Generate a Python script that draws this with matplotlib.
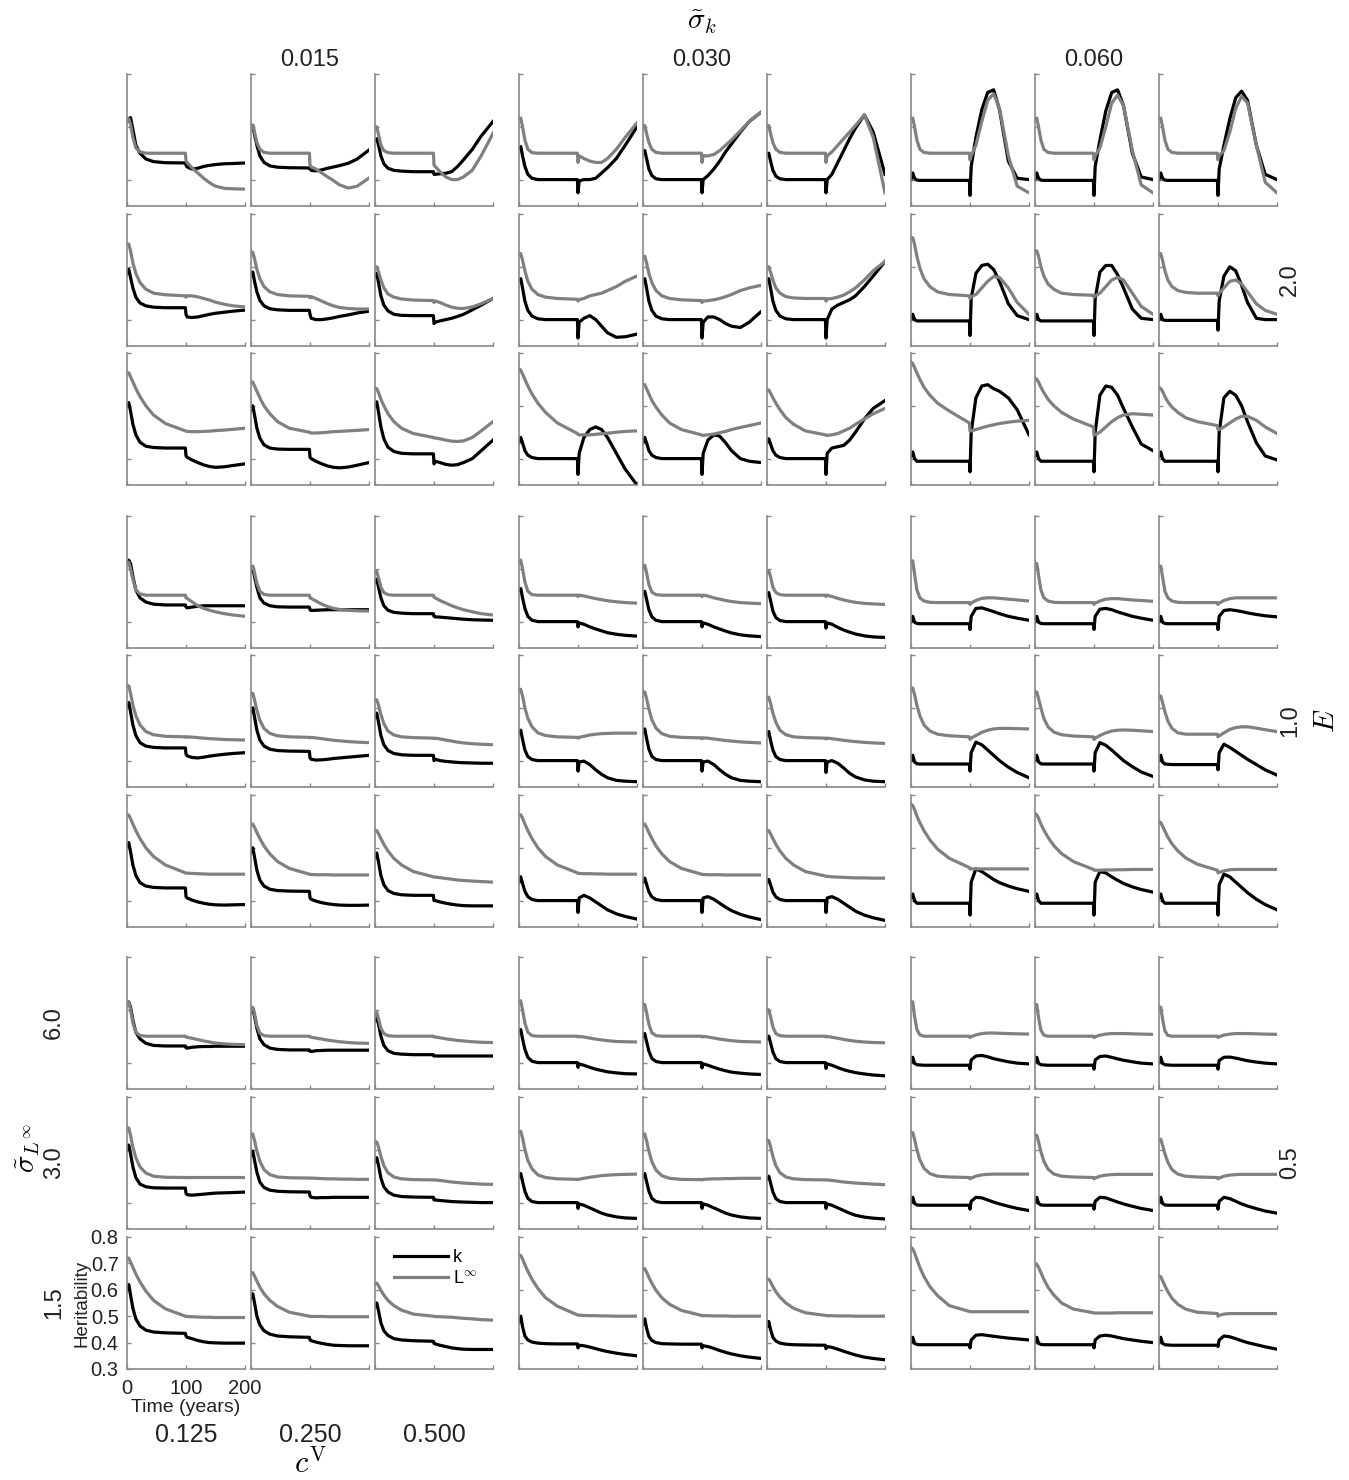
import matplotlib.pyplot as plt

plt.rcParams['font.family'] = ['Liberation Sans', 'DejaVu Sans']
plt.rcParams['mathtext.fontset'] = 'cm'

# time grid (years) shared by every curve
t_years = [0, 3, 6, 10, 15, 22, 32, 45, 65, 99, 100, 102, 110, 120, 130, 140, 150, 165, 180, 200]

sigma_k = ['0.015', '0.030', '0.060']
cv_vals = ['0.125', '0.250', '0.500']
e_vals = ['2.0', '1.0', '0.5']
sigma_linf = ['6.0', '3.0', '1.5']

# heritability of k (black) and L_inf (grey), one list per panel row, 9 panels each
k_row1 = [
    [0.62, 0.63, 0.635, 0.59, 0.53, 0.50, 0.478, 0.468, 0.464, 0.463, 0.455, 0.448, 0.44, 0.443, 0.45, 0.454, 0.457, 0.46, 0.461, 0.463],
    [0.60, 0.605, 0.57, 0.53, 0.49, 0.465, 0.452, 0.447, 0.445, 0.444, 0.44, 0.435, 0.433, 0.437, 0.443, 0.448, 0.453, 0.462, 0.478, 0.512],
    [0.55, 0.555, 0.53, 0.49, 0.46, 0.443, 0.435, 0.432, 0.43, 0.43, 0.42, 0.42, 0.422, 0.424, 0.43, 0.45, 0.475, 0.515, 0.565, 0.62],
    [0.52, 0.525, 0.49, 0.45, 0.42, 0.405, 0.40, 0.40, 0.40, 0.40, 0.35, 0.395, 0.40, 0.40, 0.405, 0.425, 0.445, 0.48, 0.53, 0.60],
    [0.505, 0.51, 0.48, 0.44, 0.415, 0.403, 0.40, 0.40, 0.40, 0.40, 0.35, 0.40, 0.415, 0.44, 0.47, 0.505, 0.535, 0.58, 0.62, 0.655],
    [0.495, 0.50, 0.47, 0.435, 0.413, 0.403, 0.40, 0.40, 0.40, 0.40, 0.35, 0.40, 0.42, 0.465, 0.51, 0.555, 0.595, 0.645, 0.58, 0.42],
    [0.40, 0.425, 0.405, 0.398, 0.397, 0.397, 0.397, 0.397, 0.397, 0.397, 0.34, 0.45, 0.56, 0.665, 0.73, 0.74, 0.665, 0.47, 0.405, 0.40],
    [0.40, 0.425, 0.405, 0.398, 0.397, 0.397, 0.397, 0.397, 0.397, 0.397, 0.34, 0.45, 0.55, 0.66, 0.73, 0.74, 0.68, 0.50, 0.41, 0.40],
    [0.40, 0.425, 0.405, 0.398, 0.397, 0.397, 0.397, 0.397, 0.397, 0.397, 0.34, 0.44, 0.53, 0.63, 0.71, 0.735, 0.70, 0.53, 0.42, 0.40],
]
l_row1 = [
    [0.62, 0.63, 0.61, 0.56, 0.52, 0.505, 0.50, 0.50, 0.50, 0.50, 0.47, 0.465, 0.445, 0.425, 0.405, 0.388, 0.375, 0.367, 0.365, 0.364],
    [0.60, 0.607, 0.58, 0.54, 0.515, 0.503, 0.50, 0.50, 0.50, 0.50, 0.455, 0.448, 0.44, 0.425, 0.41, 0.396, 0.38, 0.368, 0.375, 0.406],
    [0.595, 0.60, 0.57, 0.53, 0.51, 0.502, 0.50, 0.50, 0.50, 0.50, 0.455, 0.45, 0.43, 0.41, 0.40, 0.40, 0.41, 0.436, 0.49, 0.575],
    [0.63, 0.633, 0.60, 0.55, 0.515, 0.502, 0.50, 0.50, 0.50, 0.50, 0.465, 0.49, 0.48, 0.47, 0.465, 0.465, 0.48, 0.515, 0.56, 0.615],
    [0.60, 0.605, 0.575, 0.54, 0.515, 0.503, 0.50, 0.50, 0.50, 0.50, 0.465, 0.49, 0.49, 0.495, 0.51, 0.53, 0.55, 0.585, 0.62, 0.655],
    [0.60, 0.605, 0.575, 0.54, 0.515, 0.503, 0.50, 0.50, 0.50, 0.50, 0.465, 0.49, 0.505, 0.53, 0.555, 0.58, 0.605, 0.645, 0.56, 0.35],
    [0.63, 0.633, 0.60, 0.55, 0.515, 0.503, 0.50, 0.50, 0.50, 0.50, 0.475, 0.49, 0.53, 0.62, 0.70, 0.725, 0.67, 0.49, 0.375, 0.35],
    [0.63, 0.633, 0.60, 0.55, 0.515, 0.503, 0.50, 0.50, 0.50, 0.50, 0.475, 0.49, 0.52, 0.60, 0.69, 0.72, 0.68, 0.51, 0.38, 0.35],
    [0.63, 0.633, 0.60, 0.55, 0.515, 0.503, 0.50, 0.50, 0.50, 0.50, 0.475, 0.49, 0.51, 0.58, 0.67, 0.715, 0.69, 0.53, 0.39, 0.35],
]
k_row2 = [
    [0.575, 0.59, 0.56, 0.52, 0.485, 0.463, 0.452, 0.447, 0.445, 0.445, 0.42, 0.41, 0.408, 0.41, 0.415, 0.42, 0.424, 0.428, 0.432, 0.436],
    [0.57, 0.58, 0.545, 0.505, 0.473, 0.452, 0.441, 0.437, 0.435, 0.435, 0.42, 0.405, 0.40, 0.40, 0.403, 0.407, 0.412, 0.418, 0.425, 0.432],
    [0.565, 0.575, 0.54, 0.49, 0.455, 0.433, 0.42, 0.416, 0.415, 0.415, 0.385, 0.39, 0.395, 0.40, 0.405, 0.412, 0.42, 0.437, 0.455, 0.48],
    [0.55, 0.555, 0.52, 0.47, 0.435, 0.413, 0.403, 0.40, 0.40, 0.40, 0.33, 0.39, 0.405, 0.415, 0.40, 0.375, 0.35, 0.333, 0.335, 0.345],
    [0.55, 0.555, 0.52, 0.47, 0.435, 0.413, 0.403, 0.40, 0.40, 0.40, 0.33, 0.39, 0.41, 0.41, 0.40, 0.385, 0.375, 0.37, 0.39, 0.43],
    [0.55, 0.555, 0.52, 0.47, 0.435, 0.413, 0.403, 0.40, 0.40, 0.40, 0.33, 0.40, 0.44, 0.455, 0.465, 0.475, 0.49, 0.525, 0.565, 0.62],
    [0.40, 0.42, 0.40, 0.395, 0.395, 0.395, 0.395, 0.395, 0.395, 0.395, 0.34, 0.48, 0.575, 0.605, 0.61, 0.59, 0.545, 0.46, 0.415, 0.40],
    [0.40, 0.42, 0.40, 0.395, 0.395, 0.395, 0.395, 0.395, 0.395, 0.395, 0.34, 0.48, 0.58, 0.605, 0.605, 0.57, 0.52, 0.44, 0.405, 0.40],
    [0.40, 0.42, 0.40, 0.397, 0.397, 0.397, 0.397, 0.397, 0.397, 0.397, 0.36, 0.47, 0.565, 0.60, 0.585, 0.53, 0.465, 0.405, 0.40, 0.40],
]
l_row2 = [
    [0.686, 0.686, 0.66, 0.615, 0.575, 0.54, 0.515, 0.50, 0.494, 0.49, 0.485, 0.49, 0.49, 0.486, 0.48, 0.474, 0.466, 0.458, 0.452, 0.448],
    [0.655, 0.655, 0.63, 0.59, 0.555, 0.525, 0.505, 0.495, 0.49, 0.488, 0.483, 0.487, 0.48, 0.47, 0.46, 0.452, 0.446, 0.442, 0.44, 0.44],
    [0.60, 0.60, 0.58, 0.55, 0.52, 0.497, 0.485, 0.478, 0.474, 0.472, 0.465, 0.47, 0.465, 0.455, 0.447, 0.443, 0.442, 0.448, 0.46, 0.48],
    [0.65, 0.65, 0.625, 0.585, 0.545, 0.515, 0.495, 0.485, 0.48, 0.477, 0.47, 0.476, 0.48, 0.49, 0.495, 0.50, 0.51, 0.525, 0.545, 0.565],
    [0.64, 0.64, 0.615, 0.575, 0.54, 0.51, 0.49, 0.48, 0.475, 0.472, 0.465, 0.47, 0.472, 0.475, 0.48, 0.487, 0.495, 0.51, 0.52, 0.53],
    [0.60, 0.60, 0.58, 0.55, 0.52, 0.50, 0.487, 0.482, 0.48, 0.48, 0.47, 0.478, 0.48, 0.485, 0.493, 0.505, 0.52, 0.55, 0.585, 0.62],
    [0.71, 0.71, 0.685, 0.64, 0.595, 0.555, 0.525, 0.505, 0.495, 0.49, 0.48, 0.487, 0.495, 0.52, 0.545, 0.563, 0.56, 0.52, 0.465, 0.42],
    [0.66, 0.66, 0.64, 0.60, 0.565, 0.535, 0.515, 0.50, 0.495, 0.492, 0.485, 0.49, 0.50, 0.525, 0.55, 0.56, 0.55, 0.50, 0.45, 0.42],
    [0.65, 0.65, 0.625, 0.585, 0.55, 0.525, 0.51, 0.503, 0.50, 0.50, 0.49, 0.50, 0.52, 0.545, 0.55, 0.535, 0.505, 0.46, 0.435, 0.42],
]
k_row3 = [
    [0.60, 0.612, 0.58, 0.53, 0.49, 0.462, 0.447, 0.442, 0.44, 0.44, 0.41, 0.405, 0.395, 0.385, 0.376, 0.37, 0.367, 0.369, 0.374, 0.38],
    [0.585, 0.60, 0.565, 0.515, 0.478, 0.452, 0.44, 0.436, 0.435, 0.435, 0.405, 0.40, 0.39, 0.38, 0.372, 0.367, 0.365, 0.368, 0.375, 0.385],
    [0.60, 0.615, 0.575, 0.52, 0.475, 0.443, 0.427, 0.42, 0.418, 0.418, 0.38, 0.39, 0.385, 0.378, 0.375, 0.377, 0.385, 0.40, 0.43, 0.47],
    [0.46, 0.48, 0.46, 0.43, 0.413, 0.404, 0.40, 0.40, 0.40, 0.40, 0.34, 0.42, 0.48, 0.51, 0.52, 0.51, 0.48, 0.42, 0.36, 0.30],
    [0.46, 0.48, 0.46, 0.43, 0.413, 0.404, 0.40, 0.40, 0.40, 0.40, 0.34, 0.42, 0.47, 0.49, 0.485, 0.46, 0.43, 0.40, 0.39, 0.385],
    [0.46, 0.475, 0.455, 0.43, 0.413, 0.404, 0.40, 0.40, 0.40, 0.40, 0.34, 0.42, 0.44, 0.445, 0.45, 0.47, 0.50, 0.55, 0.59, 0.62],
    [0.41, 0.425, 0.40, 0.39, 0.39, 0.39, 0.39, 0.39, 0.39, 0.39, 0.35, 0.50, 0.63, 0.675, 0.68, 0.665, 0.655, 0.63, 0.585, 0.49],
    [0.41, 0.425, 0.40, 0.39, 0.39, 0.39, 0.39, 0.39, 0.39, 0.39, 0.35, 0.50, 0.64, 0.675, 0.67, 0.64, 0.59, 0.52, 0.455, 0.43],
    [0.41, 0.425, 0.40, 0.39, 0.39, 0.39, 0.39, 0.39, 0.39, 0.39, 0.35, 0.50, 0.63, 0.655, 0.64, 0.60, 0.54, 0.46, 0.41, 0.395],
]
l_row3 = [
    [0.725, 0.725, 0.71, 0.69, 0.665, 0.635, 0.60, 0.565, 0.533, 0.505, 0.504, 0.503, 0.502, 0.502, 0.503, 0.504, 0.506, 0.508, 0.511, 0.515],
    [0.69, 0.69, 0.675, 0.655, 0.63, 0.60, 0.57, 0.54, 0.515, 0.50, 0.498, 0.497, 0.497, 0.498, 0.50, 0.502, 0.503, 0.505, 0.507, 0.51],
    [0.665, 0.665, 0.65, 0.625, 0.60, 0.57, 0.54, 0.515, 0.495, 0.48, 0.478, 0.478, 0.475, 0.47, 0.466, 0.465, 0.467, 0.48, 0.505, 0.54],
    [0.74, 0.735, 0.72, 0.70, 0.675, 0.645, 0.61, 0.575, 0.535, 0.495, 0.492, 0.49, 0.49, 0.49, 0.492, 0.494, 0.496, 0.50, 0.503, 0.505],
    [0.68, 0.68, 0.665, 0.645, 0.62, 0.595, 0.565, 0.535, 0.51, 0.49, 0.488, 0.488, 0.49, 0.493, 0.498, 0.503, 0.51, 0.518, 0.525, 0.535],
    [0.66, 0.66, 0.648, 0.63, 0.61, 0.585, 0.555, 0.53, 0.505, 0.49, 0.488, 0.488, 0.49, 0.495, 0.505, 0.515, 0.53, 0.55, 0.57, 0.59],
    [0.766, 0.76, 0.745, 0.725, 0.70, 0.67, 0.64, 0.61, 0.58, 0.535, 0.505, 0.505, 0.51, 0.517, 0.523, 0.528, 0.533, 0.538, 0.542, 0.545],
    [0.705, 0.70, 0.69, 0.67, 0.65, 0.625, 0.60, 0.575, 0.55, 0.52, 0.49, 0.49, 0.50, 0.52, 0.54, 0.555, 0.565, 0.57, 0.568, 0.565],
    [0.67, 0.665, 0.655, 0.635, 0.615, 0.595, 0.575, 0.555, 0.54, 0.525, 0.51, 0.51, 0.52, 0.535, 0.55, 0.56, 0.56, 0.545, 0.52, 0.495],
]
k_row4 = [
    [0.62, 0.633, 0.62, 0.57, 0.52, 0.49, 0.474, 0.466, 0.463, 0.463, 0.455, 0.452, 0.455, 0.458, 0.46, 0.46, 0.46, 0.46, 0.46, 0.46],
    [0.595, 0.605, 0.57, 0.53, 0.49, 0.47, 0.46, 0.456, 0.455, 0.455, 0.445, 0.442, 0.443, 0.444, 0.445, 0.445, 0.445, 0.445, 0.445, 0.445],
    [0.55, 0.56, 0.53, 0.49, 0.46, 0.443, 0.435, 0.432, 0.43, 0.43, 0.42, 0.418, 0.417, 0.415, 0.413, 0.411, 0.409, 0.407, 0.406, 0.405],
    [0.52, 0.525, 0.49, 0.45, 0.42, 0.405, 0.40, 0.40, 0.40, 0.40, 0.38, 0.395, 0.39, 0.38, 0.372, 0.365, 0.358, 0.352, 0.348, 0.345],
    [0.51, 0.515, 0.485, 0.445, 0.418, 0.405, 0.40, 0.40, 0.40, 0.40, 0.38, 0.395, 0.39, 0.38, 0.372, 0.364, 0.357, 0.35, 0.346, 0.343],
    [0.505, 0.51, 0.48, 0.44, 0.415, 0.404, 0.40, 0.40, 0.40, 0.40, 0.375, 0.395, 0.39, 0.378, 0.368, 0.36, 0.353, 0.346, 0.342, 0.34],
    [0.40, 0.42, 0.398, 0.393, 0.392, 0.392, 0.392, 0.392, 0.392, 0.392, 0.37, 0.42, 0.45, 0.452, 0.445, 0.438, 0.43, 0.42, 0.413, 0.405],
    [0.40, 0.42, 0.398, 0.393, 0.392, 0.392, 0.392, 0.392, 0.392, 0.392, 0.37, 0.42, 0.447, 0.45, 0.445, 0.437, 0.43, 0.42, 0.413, 0.405],
    [0.40, 0.42, 0.398, 0.393, 0.392, 0.392, 0.392, 0.392, 0.392, 0.392, 0.37, 0.42, 0.442, 0.445, 0.442, 0.438, 0.433, 0.427, 0.422, 0.418],
]
l_row4 = [
    [0.615, 0.625, 0.60, 0.56, 0.52, 0.505, 0.50, 0.50, 0.50, 0.50, 0.49, 0.488, 0.475, 0.46, 0.45, 0.443, 0.437, 0.43, 0.425, 0.42],
    [0.60, 0.61, 0.585, 0.545, 0.515, 0.503, 0.50, 0.50, 0.50, 0.50, 0.49, 0.488, 0.478, 0.466, 0.457, 0.45, 0.446, 0.443, 0.441, 0.44],
    [0.585, 0.59, 0.565, 0.53, 0.51, 0.502, 0.50, 0.50, 0.50, 0.50, 0.492, 0.49, 0.48, 0.47, 0.46, 0.452, 0.445, 0.437, 0.43, 0.425],
    [0.63, 0.633, 0.60, 0.55, 0.515, 0.502, 0.50, 0.50, 0.50, 0.50, 0.495, 0.50, 0.497, 0.492, 0.487, 0.483, 0.479, 0.475, 0.472, 0.47],
    [0.61, 0.613, 0.585, 0.54, 0.512, 0.502, 0.50, 0.50, 0.50, 0.50, 0.495, 0.50, 0.497, 0.49, 0.485, 0.48, 0.476, 0.472, 0.47, 0.468],
    [0.59, 0.593, 0.57, 0.53, 0.51, 0.502, 0.50, 0.50, 0.50, 0.50, 0.495, 0.50, 0.495, 0.488, 0.482, 0.477, 0.473, 0.469, 0.467, 0.465],
    [0.63, 0.63, 0.58, 0.52, 0.49, 0.478, 0.473, 0.472, 0.472, 0.472, 0.465, 0.47, 0.48, 0.488, 0.49, 0.49, 0.488, 0.485, 0.482, 0.478],
    [0.62, 0.62, 0.575, 0.52, 0.49, 0.478, 0.473, 0.472, 0.472, 0.472, 0.465, 0.47, 0.478, 0.485, 0.487, 0.487, 0.485, 0.482, 0.48, 0.477],
    [0.61, 0.61, 0.57, 0.515, 0.49, 0.478, 0.473, 0.472, 0.472, 0.472, 0.465, 0.47, 0.48, 0.487, 0.49, 0.49, 0.49, 0.49, 0.49, 0.49],
]
k_row5 = [
    [0.605, 0.62, 0.585, 0.535, 0.495, 0.468, 0.455, 0.45, 0.448, 0.448, 0.425, 0.418, 0.412, 0.41, 0.413, 0.417, 0.42, 0.424, 0.427, 0.43],
    [0.585, 0.60, 0.565, 0.515, 0.478, 0.455, 0.443, 0.438, 0.436, 0.435, 0.41, 0.405, 0.402, 0.403, 0.405, 0.408, 0.41, 0.413, 0.416, 0.42],
    [0.565, 0.58, 0.545, 0.495, 0.46, 0.438, 0.427, 0.422, 0.42, 0.42, 0.40, 0.405, 0.40, 0.397, 0.395, 0.393, 0.392, 0.391, 0.39, 0.39],
    [0.505, 0.515, 0.48, 0.44, 0.415, 0.404, 0.40, 0.40, 0.40, 0.40, 0.36, 0.395, 0.398, 0.385, 0.365, 0.348, 0.335, 0.325, 0.322, 0.32],
    [0.51, 0.52, 0.485, 0.443, 0.416, 0.404, 0.40, 0.40, 0.40, 0.40, 0.36, 0.395, 0.398, 0.385, 0.365, 0.348, 0.335, 0.325, 0.322, 0.32],
    [0.50, 0.51, 0.477, 0.44, 0.415, 0.404, 0.40, 0.40, 0.40, 0.40, 0.355, 0.395, 0.40, 0.39, 0.372, 0.352, 0.338, 0.327, 0.322, 0.32],
    [0.40, 0.42, 0.395, 0.388, 0.387, 0.387, 0.387, 0.387, 0.387, 0.387, 0.36, 0.43, 0.47, 0.46, 0.44, 0.42, 0.40, 0.375, 0.355, 0.335],
    [0.40, 0.42, 0.395, 0.388, 0.387, 0.387, 0.387, 0.387, 0.387, 0.387, 0.36, 0.43, 0.468, 0.458, 0.44, 0.42, 0.40, 0.377, 0.357, 0.34],
    [0.40, 0.42, 0.395, 0.387, 0.386, 0.385, 0.385, 0.385, 0.385, 0.385, 0.365, 0.43, 0.462, 0.45, 0.435, 0.42, 0.405, 0.385, 0.365, 0.345],
]
l_row5 = [
    [0.683, 0.683, 0.655, 0.61, 0.57, 0.535, 0.51, 0.498, 0.492, 0.49, 0.488, 0.49, 0.489, 0.487, 0.485, 0.483, 0.482, 0.48, 0.479, 0.478],
    [0.655, 0.655, 0.63, 0.59, 0.553, 0.522, 0.503, 0.494, 0.49, 0.488, 0.486, 0.488, 0.486, 0.483, 0.48, 0.477, 0.475, 0.472, 0.47, 0.468],
    [0.63, 0.63, 0.61, 0.575, 0.54, 0.512, 0.497, 0.49, 0.487, 0.485, 0.483, 0.485, 0.482, 0.478, 0.474, 0.47, 0.467, 0.464, 0.462, 0.46],
    [0.67, 0.67, 0.645, 0.60, 0.56, 0.528, 0.505, 0.495, 0.49, 0.488, 0.485, 0.488, 0.492, 0.497, 0.50, 0.502, 0.503, 0.504, 0.504, 0.504],
    [0.66, 0.66, 0.635, 0.595, 0.555, 0.523, 0.502, 0.492, 0.488, 0.486, 0.483, 0.486, 0.485, 0.482, 0.479, 0.476, 0.474, 0.471, 0.469, 0.467],
    [0.64, 0.64, 0.617, 0.58, 0.545, 0.515, 0.498, 0.49, 0.487, 0.485, 0.482, 0.485, 0.483, 0.48, 0.477, 0.474, 0.472, 0.469, 0.467, 0.465],
    [0.675, 0.675, 0.65, 0.61, 0.57, 0.535, 0.512, 0.50, 0.494, 0.49, 0.48, 0.485, 0.495, 0.507, 0.515, 0.52, 0.522, 0.522, 0.521, 0.52],
    [0.66, 0.66, 0.635, 0.60, 0.56, 0.528, 0.508, 0.498, 0.493, 0.49, 0.48, 0.485, 0.495, 0.505, 0.512, 0.515, 0.516, 0.515, 0.513, 0.51],
    [0.645, 0.645, 0.62, 0.585, 0.55, 0.522, 0.505, 0.50, 0.50, 0.50, 0.49, 0.494, 0.505, 0.518, 0.525, 0.528, 0.528, 0.523, 0.517, 0.51],
]
k_row6 = [
    [0.605, 0.62, 0.585, 0.535, 0.495, 0.468, 0.455, 0.45, 0.448, 0.448, 0.415, 0.41, 0.402, 0.395, 0.39, 0.386, 0.384, 0.383, 0.384, 0.385],
    [0.585, 0.60, 0.565, 0.515, 0.478, 0.455, 0.443, 0.438, 0.436, 0.435, 0.41, 0.405, 0.398, 0.392, 0.388, 0.385, 0.383, 0.382, 0.382, 0.383],
    [0.565, 0.58, 0.545, 0.495, 0.46, 0.438, 0.427, 0.422, 0.42, 0.42, 0.40, 0.40, 0.395, 0.39, 0.386, 0.383, 0.381, 0.38, 0.38, 0.38],
    [0.47, 0.49, 0.465, 0.435, 0.415, 0.404, 0.40, 0.40, 0.40, 0.40, 0.355, 0.41, 0.42, 0.41, 0.395, 0.38, 0.365, 0.35, 0.34, 0.33],
    [0.47, 0.485, 0.462, 0.433, 0.414, 0.404, 0.40, 0.40, 0.40, 0.40, 0.355, 0.41, 0.415, 0.405, 0.39, 0.375, 0.362, 0.348, 0.338, 0.328],
    [0.47, 0.48, 0.46, 0.432, 0.414, 0.404, 0.40, 0.40, 0.40, 0.40, 0.355, 0.41, 0.415, 0.405, 0.39, 0.375, 0.36, 0.345, 0.335, 0.325],
    [0.41, 0.425, 0.40, 0.39, 0.39, 0.39, 0.39, 0.39, 0.39, 0.39, 0.345, 0.47, 0.52, 0.51, 0.495, 0.48, 0.468, 0.455, 0.445, 0.435],
    [0.41, 0.425, 0.40, 0.39, 0.39, 0.39, 0.39, 0.39, 0.39, 0.39, 0.345, 0.47, 0.51, 0.505, 0.49, 0.477, 0.465, 0.452, 0.442, 0.432],
    [0.41, 0.425, 0.40, 0.39, 0.39, 0.39, 0.39, 0.39, 0.39, 0.39, 0.345, 0.46, 0.50, 0.49, 0.47, 0.45, 0.43, 0.405, 0.385, 0.365],
]
l_row6 = [
    [0.724, 0.724, 0.71, 0.69, 0.665, 0.635, 0.60, 0.567, 0.535, 0.505, 0.504, 0.504, 0.503, 0.502, 0.501, 0.50, 0.50, 0.50, 0.50, 0.50],
    [0.69, 0.69, 0.677, 0.658, 0.635, 0.607, 0.577, 0.548, 0.522, 0.50, 0.499, 0.499, 0.498, 0.498, 0.498, 0.497, 0.497, 0.497, 0.497, 0.497],
    [0.665, 0.665, 0.653, 0.635, 0.613, 0.588, 0.56, 0.535, 0.51, 0.49, 0.489, 0.489, 0.487, 0.484, 0.481, 0.478, 0.476, 0.474, 0.472, 0.47],
    [0.725, 0.725, 0.712, 0.69, 0.665, 0.635, 0.60, 0.567, 0.535, 0.505, 0.503, 0.503, 0.502, 0.502, 0.501, 0.501, 0.50, 0.50, 0.50, 0.50],
    [0.69, 0.69, 0.677, 0.658, 0.635, 0.607, 0.577, 0.548, 0.522, 0.50, 0.499, 0.499, 0.498, 0.498, 0.498, 0.497, 0.497, 0.497, 0.497, 0.497],
    [0.665, 0.665, 0.653, 0.635, 0.613, 0.588, 0.56, 0.535, 0.51, 0.493, 0.492, 0.492, 0.49, 0.489, 0.488, 0.487, 0.486, 0.486, 0.485, 0.485],
    [0.765, 0.76, 0.745, 0.72, 0.695, 0.665, 0.63, 0.595, 0.56, 0.525, 0.52, 0.52, 0.52, 0.52, 0.52, 0.52, 0.52, 0.52, 0.52, 0.52],
    [0.73, 0.725, 0.712, 0.69, 0.667, 0.64, 0.608, 0.578, 0.548, 0.518, 0.515, 0.515, 0.515, 0.516, 0.516, 0.517, 0.517, 0.518, 0.518, 0.518],
    [0.70, 0.695, 0.682, 0.663, 0.64, 0.615, 0.588, 0.562, 0.538, 0.515, 0.505, 0.507, 0.512, 0.517, 0.518, 0.518, 0.518, 0.518, 0.518, 0.518],
]
k_row7 = [
    [0.62, 0.63, 0.61, 0.56, 0.515, 0.49, 0.473, 0.465, 0.463, 0.463, 0.456, 0.455, 0.458, 0.46, 0.461, 0.461, 0.462, 0.462, 0.462, 0.462],
    [0.595, 0.605, 0.575, 0.53, 0.49, 0.468, 0.455, 0.45, 0.448, 0.448, 0.443, 0.442, 0.445, 0.446, 0.447, 0.447, 0.447, 0.447, 0.447, 0.447],
    [0.56, 0.57, 0.545, 0.50, 0.465, 0.445, 0.435, 0.432, 0.43, 0.43, 0.425, 0.425, 0.425, 0.425, 0.425, 0.425, 0.425, 0.425, 0.425, 0.425],
    [0.52, 0.525, 0.49, 0.45, 0.42, 0.405, 0.40, 0.40, 0.40, 0.40, 0.382, 0.395, 0.39, 0.382, 0.375, 0.37, 0.365, 0.361, 0.358, 0.357],
    [0.50, 0.51, 0.48, 0.443, 0.416, 0.404, 0.40, 0.40, 0.40, 0.40, 0.38, 0.395, 0.39, 0.382, 0.375, 0.369, 0.364, 0.36, 0.357, 0.355],
    [0.49, 0.50, 0.475, 0.44, 0.415, 0.404, 0.40, 0.40, 0.40, 0.40, 0.378, 0.395, 0.39, 0.381, 0.373, 0.367, 0.362, 0.357, 0.353, 0.35],
    [0.40, 0.42, 0.397, 0.392, 0.391, 0.39, 0.39, 0.39, 0.39, 0.39, 0.375, 0.41, 0.425, 0.427, 0.422, 0.415, 0.41, 0.403, 0.398, 0.395],
    [0.40, 0.42, 0.397, 0.392, 0.391, 0.39, 0.39, 0.39, 0.39, 0.39, 0.375, 0.41, 0.423, 0.425, 0.42, 0.414, 0.409, 0.403, 0.398, 0.395],
    [0.40, 0.42, 0.397, 0.392, 0.391, 0.39, 0.39, 0.39, 0.39, 0.39, 0.375, 0.408, 0.42, 0.421, 0.417, 0.412, 0.407, 0.402, 0.398, 0.395],
]
l_row7 = [
    [0.62, 0.63, 0.60, 0.55, 0.515, 0.503, 0.50, 0.50, 0.50, 0.50, 0.497, 0.496, 0.492, 0.487, 0.482, 0.478, 0.474, 0.471, 0.469, 0.468],
    [0.60, 0.61, 0.585, 0.54, 0.512, 0.502, 0.50, 0.50, 0.50, 0.50, 0.497, 0.496, 0.493, 0.489, 0.485, 0.482, 0.479, 0.476, 0.474, 0.473],
    [0.58, 0.59, 0.565, 0.53, 0.51, 0.502, 0.50, 0.50, 0.50, 0.50, 0.497, 0.497, 0.494, 0.49, 0.487, 0.484, 0.482, 0.479, 0.477, 0.476],
    [0.634, 0.634, 0.60, 0.55, 0.515, 0.502, 0.50, 0.50, 0.50, 0.50, 0.497, 0.499, 0.497, 0.493, 0.489, 0.486, 0.483, 0.48, 0.479, 0.478],
    [0.62, 0.62, 0.59, 0.545, 0.513, 0.502, 0.50, 0.50, 0.50, 0.50, 0.497, 0.499, 0.497, 0.493, 0.489, 0.486, 0.483, 0.48, 0.479, 0.478],
    [0.60, 0.60, 0.575, 0.535, 0.51, 0.502, 0.50, 0.50, 0.50, 0.50, 0.497, 0.499, 0.496, 0.492, 0.488, 0.484, 0.481, 0.478, 0.476, 0.475],
    [0.63, 0.63, 0.575, 0.525, 0.505, 0.50, 0.50, 0.50, 0.50, 0.50, 0.495, 0.498, 0.505, 0.51, 0.512, 0.512, 0.511, 0.51, 0.509, 0.508],
    [0.62, 0.62, 0.57, 0.523, 0.504, 0.50, 0.50, 0.50, 0.50, 0.50, 0.495, 0.498, 0.504, 0.508, 0.51, 0.51, 0.51, 0.509, 0.508, 0.507],
    [0.61, 0.61, 0.565, 0.52, 0.503, 0.50, 0.50, 0.50, 0.50, 0.50, 0.495, 0.498, 0.504, 0.508, 0.51, 0.51, 0.51, 0.509, 0.508, 0.507],
]
k_row8 = [
    [0.60, 0.618, 0.585, 0.535, 0.495, 0.47, 0.46, 0.456, 0.455, 0.455, 0.435, 0.43, 0.428, 0.43, 0.432, 0.434, 0.436, 0.437, 0.438, 0.44],
    [0.58, 0.595, 0.56, 0.515, 0.478, 0.457, 0.447, 0.443, 0.441, 0.44, 0.425, 0.42, 0.418, 0.419, 0.419, 0.42, 0.42, 0.42, 0.42, 0.42],
    [0.555, 0.57, 0.54, 0.493, 0.46, 0.44, 0.428, 0.423, 0.421, 0.42, 0.41, 0.41, 0.408, 0.406, 0.404, 0.403, 0.402, 0.401, 0.40, 0.40],
    [0.50, 0.51, 0.48, 0.443, 0.416, 0.404, 0.40, 0.40, 0.40, 0.40, 0.378, 0.395, 0.39, 0.38, 0.37, 0.36, 0.353, 0.346, 0.342, 0.34],
    [0.50, 0.51, 0.48, 0.443, 0.416, 0.404, 0.40, 0.40, 0.40, 0.40, 0.378, 0.395, 0.39, 0.38, 0.37, 0.36, 0.353, 0.346, 0.342, 0.34],
    [0.49, 0.50, 0.475, 0.44, 0.415, 0.404, 0.40, 0.40, 0.40, 0.40, 0.378, 0.395, 0.39, 0.38, 0.37, 0.36, 0.352, 0.345, 0.341, 0.338],
    [0.40, 0.42, 0.397, 0.391, 0.39, 0.39, 0.39, 0.39, 0.39, 0.39, 0.375, 0.405, 0.42, 0.418, 0.41, 0.402, 0.395, 0.386, 0.378, 0.37],
    [0.40, 0.42, 0.397, 0.391, 0.39, 0.39, 0.39, 0.39, 0.39, 0.39, 0.375, 0.405, 0.42, 0.418, 0.41, 0.402, 0.395, 0.386, 0.378, 0.37],
    [0.40, 0.42, 0.397, 0.391, 0.39, 0.39, 0.39, 0.39, 0.39, 0.39, 0.375, 0.405, 0.42, 0.415, 0.405, 0.395, 0.387, 0.377, 0.368, 0.36],
]
l_row8 = [
    [0.683, 0.683, 0.655, 0.61, 0.57, 0.535, 0.512, 0.50, 0.496, 0.495, 0.494, 0.495, 0.495, 0.495, 0.495, 0.495, 0.495, 0.495, 0.495, 0.495],
    [0.66, 0.66, 0.635, 0.595, 0.557, 0.525, 0.506, 0.497, 0.494, 0.493, 0.492, 0.493, 0.492, 0.491, 0.49, 0.49, 0.489, 0.489, 0.488, 0.488],
    [0.63, 0.63, 0.61, 0.575, 0.54, 0.513, 0.497, 0.49, 0.487, 0.486, 0.485, 0.486, 0.484, 0.481, 0.478, 0.476, 0.474, 0.472, 0.47, 0.469],
    [0.67, 0.67, 0.645, 0.60, 0.56, 0.528, 0.505, 0.495, 0.49, 0.488, 0.487, 0.489, 0.492, 0.496, 0.499, 0.502, 0.504, 0.506, 0.507, 0.508],
    [0.66, 0.66, 0.635, 0.595, 0.555, 0.523, 0.502, 0.492, 0.488, 0.487, 0.486, 0.488, 0.489, 0.49, 0.49, 0.491, 0.491, 0.492, 0.492, 0.492],
    [0.635, 0.635, 0.612, 0.575, 0.54, 0.513, 0.497, 0.49, 0.487, 0.486, 0.485, 0.486, 0.484, 0.481, 0.478, 0.476, 0.474, 0.472, 0.47, 0.468],
    [0.665, 0.665, 0.64, 0.60, 0.562, 0.53, 0.51, 0.50, 0.497, 0.495, 0.49, 0.493, 0.50, 0.505, 0.507, 0.508, 0.508, 0.508, 0.508, 0.508],
    [0.655, 0.655, 0.63, 0.593, 0.557, 0.527, 0.508, 0.50, 0.497, 0.495, 0.49, 0.493, 0.50, 0.504, 0.506, 0.507, 0.507, 0.507, 0.507, 0.507],
    [0.64, 0.64, 0.618, 0.585, 0.553, 0.525, 0.508, 0.50, 0.497, 0.495, 0.49, 0.493, 0.50, 0.504, 0.506, 0.507, 0.507, 0.507, 0.507, 0.507],
]
k_row9 = [
    [0.60, 0.62, 0.58, 0.53, 0.49, 0.463, 0.447, 0.44, 0.437, 0.435, 0.425, 0.42, 0.415, 0.408, 0.403, 0.40, 0.399, 0.398, 0.398, 0.398],
    [0.57, 0.585, 0.55, 0.50, 0.467, 0.445, 0.432, 0.425, 0.422, 0.42, 0.41, 0.407, 0.402, 0.397, 0.393, 0.39, 0.389, 0.388, 0.388, 0.388],
    [0.535, 0.55, 0.52, 0.475, 0.445, 0.427, 0.415, 0.41, 0.407, 0.405, 0.397, 0.395, 0.39, 0.385, 0.38, 0.377, 0.375, 0.374, 0.374, 0.374],
    [0.48, 0.50, 0.46, 0.425, 0.41, 0.402, 0.398, 0.396, 0.395, 0.395, 0.38, 0.39, 0.388, 0.383, 0.377, 0.371, 0.366, 0.36, 0.355, 0.35],
    [0.47, 0.49, 0.455, 0.423, 0.408, 0.40, 0.396, 0.395, 0.394, 0.394, 0.38, 0.388, 0.385, 0.378, 0.37, 0.363, 0.357, 0.35, 0.345, 0.34],
    [0.46, 0.48, 0.45, 0.42, 0.406, 0.398, 0.394, 0.392, 0.391, 0.39, 0.377, 0.385, 0.382, 0.375, 0.367, 0.36, 0.353, 0.345, 0.34, 0.335],
    [0.40, 0.42, 0.397, 0.393, 0.392, 0.392, 0.392, 0.392, 0.392, 0.392, 0.38, 0.41, 0.428, 0.43, 0.427, 0.424, 0.421, 0.417, 0.414, 0.41],
    [0.40, 0.42, 0.397, 0.393, 0.392, 0.392, 0.392, 0.392, 0.392, 0.392, 0.38, 0.41, 0.425, 0.428, 0.425, 0.42, 0.415, 0.41, 0.405, 0.40],
    [0.40, 0.42, 0.397, 0.392, 0.391, 0.39, 0.39, 0.39, 0.39, 0.39, 0.385, 0.41, 0.425, 0.422, 0.415, 0.407, 0.40, 0.392, 0.384, 0.375],
]
l_row9 = [
    [0.72, 0.72, 0.705, 0.685, 0.66, 0.63, 0.595, 0.56, 0.528, 0.50, 0.499, 0.499, 0.498, 0.497, 0.496, 0.496, 0.495, 0.495, 0.495, 0.495],
    [0.665, 0.665, 0.652, 0.633, 0.61, 0.585, 0.56, 0.537, 0.515, 0.50, 0.499, 0.499, 0.499, 0.499, 0.498, 0.498, 0.498, 0.498, 0.498, 0.498],
    [0.625, 0.625, 0.615, 0.598, 0.58, 0.56, 0.54, 0.523, 0.508, 0.50, 0.499, 0.499, 0.498, 0.497, 0.496, 0.494, 0.492, 0.49, 0.487, 0.485],
    [0.73, 0.73, 0.717, 0.695, 0.67, 0.64, 0.605, 0.57, 0.538, 0.505, 0.504, 0.504, 0.503, 0.502, 0.502, 0.501, 0.501, 0.50, 0.50, 0.50],
    [0.68, 0.68, 0.667, 0.647, 0.625, 0.598, 0.57, 0.545, 0.522, 0.503, 0.502, 0.502, 0.502, 0.501, 0.501, 0.501, 0.50, 0.50, 0.50, 0.50],
    [0.64, 0.64, 0.63, 0.612, 0.593, 0.572, 0.55, 0.53, 0.513, 0.503, 0.502, 0.502, 0.502, 0.501, 0.501, 0.501, 0.50, 0.50, 0.50, 0.50],
    [0.76, 0.755, 0.74, 0.715, 0.685, 0.65, 0.612, 0.578, 0.54, 0.518, 0.517, 0.517, 0.517, 0.517, 0.517, 0.517, 0.517, 0.517, 0.517, 0.517],
    [0.70, 0.697, 0.685, 0.665, 0.64, 0.61, 0.58, 0.55, 0.527, 0.513, 0.512, 0.512, 0.512, 0.512, 0.512, 0.513, 0.513, 0.513, 0.513, 0.513],
    [0.65, 0.65, 0.635, 0.615, 0.593, 0.568, 0.545, 0.527, 0.515, 0.51, 0.50, 0.503, 0.508, 0.51, 0.51, 0.51, 0.51, 0.51, 0.51, 0.51],
]

k_rows = [k_row1, k_row2, k_row3, k_row4, k_row5, k_row6, k_row7, k_row8, k_row9]
l_rows = [l_row1, l_row2, l_row3, l_row4, l_row5, l_row6, l_row7, l_row8, l_row9]

W, H = 1349, 1480
fig = plt.figure(figsize=(W / 100, H / 100), dpi=100)

# panel layout in pixels
col_left = [127, 251, 375, 519, 643, 767, 911, 1035, 1159]
row_top = [74, 214, 353, 516, 655, 795, 957, 1097, 1237]
pw, ph = 118, 132
spine_col = '#888888'
grey_line = '#808080'
text_col = '#222222'


def fx(x):
    return x / W


def fy(y):
    return 1 - y / H


for r in range(9):
    for c in range(9):
        ax = fig.add_axes([fx(col_left[c]), fy(row_top[r] + ph), pw / W, ph / H])
        ax.plot(t_years, k_rows[r][c], color='black', lw=2.3, label='k')
        ax.plot(t_years, l_rows[r][c], color=grey_line, lw=2.3, label=r'L$^{\infty}$')
        ax.set_xlim(0, 200)
        ax.set_ylim(0.3, 0.8)
        for side in ['top', 'right']:
            ax.spines[side].set_visible(False)
        for side in ['left', 'bottom']:
            ax.spines[side].set_color(spine_col)
            ax.spines[side].set_linewidth(1.2)
        ax.set_xticks([0, 100, 200])
        ax.tick_params(direction='in', length=3, width=1, colors=spine_col,
                       labelcolor=text_col, labelsize=14.5)
        if r == 8 and c == 0:
            ax.set_yticks([0.3, 0.4, 0.5, 0.6, 0.7, 0.8])
            ax.set_yticklabels(['0.3', '0.4', '0.5', '0.6', '0.7', '0.8'])
            ax.tick_params(axis='x', pad=7)
            ax.tick_params(axis='y', pad=6)
            ax.set_ylabel('Heritability', fontsize=13.5, labelpad=0, color=text_col)
            ax.set_xlabel('Time (years)', fontsize=14, labelpad=1, color=text_col)
        else:
            ax.set_yticks([0.4, 0.6, 0.8])
            ax.tick_params(labelleft=False, labelbottom=False)
        if r == 8 and c == 2:
            ax.legend(frameon=False, loc='upper left', bbox_to_anchor=(0.02, 1.03),
                      handlelength=3.0, handletextpad=0.3, labelspacing=0.2,
                      fontsize=13)

# facet labels
fig.text(fx(702), fy(22), r'$\tilde{\sigma}_k$', fontsize=21, ha='center', va='center')
for i, lab in enumerate(sigma_k):
    xc = (col_left[3 * i] + col_left[3 * i + 2] + pw) / 2
    fig.text(fx(xc), fy(60), lab, fontsize=17, ha='center', va='center', color=text_col)

for i, lab in enumerate(e_vals):
    yc = row_top[3 * i + 1] + ph / 2
    fig.text(fx(1290), fy(yc), lab, fontsize=17, ha='center', va='center',
             rotation=90, color=text_col)
fig.text(fx(1326), fy(721), r'$E$', fontsize=21, ha='center', va='center', rotation=90)

for i, lab in enumerate(sigma_linf):
    yc = row_top[6 + i] + ph / 2
    fig.text(fx(54), fy(yc), lab, fontsize=17, ha='center', va='center',
             rotation=90, color=text_col)
fig.text(fx(28), fy(1148), r'$\tilde{\sigma}_{L^{\infty}}$', fontsize=21, ha='center',
         va='center', rotation=90)

for i, lab in enumerate(cv_vals):
    xc = col_left[i] + pw / 2
    fig.text(fx(xc), fy(1435), lab, fontsize=18, ha='center', va='center', color=text_col)
fig.text(fx(310), fy(1464), r'$c^{\mathrm{V}}$', fontsize=22, ha='center', va='center')

fig.savefig('out.png', dpi=100)
